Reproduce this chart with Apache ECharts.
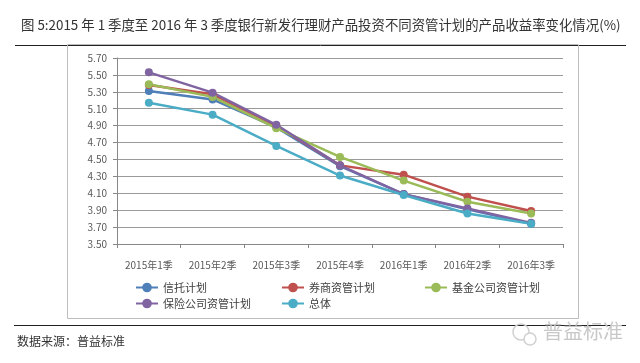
<!DOCTYPE html>
<html><head><meta charset="utf-8">
<script src="https://cdn.jsdelivr.net/npm/echarts@6/dist/echarts.min.js"></script>
<style>html,body{margin:0;padding:0;background:#fff}#c{width:640px;height:363px}</style>
</head><body><div id="c"></div>
<script>
var categories = ['2015年1季','2015年2季','2015年3季','2015年4季','2016年1季','2016年2季','2016年3季'];
var seriesNames = ['信托计划','券商资管计划','基金公司资管计划','保险公司资管计划','总体'];
var trust    = [5.31, 5.21, 4.88, 4.42, 4.09, 3.91, 3.74];
var broker   = [5.38, 5.27, 4.90, 4.43, 4.32, 4.06, 3.89];
var fund     = [5.39, 5.24, 4.87, 4.53, 4.25, 4.00, 3.86];
var insure   = [5.53, 5.29, 4.91, 4.43, 4.09, 3.92, 3.75];
var overall  = [5.17, 5.03, 4.66, 4.31, 4.08, 3.86, 3.74];
var yTicks = {min: 3.5, max: 5.7, step: 0.2};
var titleText = '图 5:2015 年 1 季度至 2016 年 3 季度银行新发行理财产品投资不同资管计划的产品收益率变化情况(%)';
var sourceText = '数据来源：普益标准';

var colors = ['#4f7fb8','#bf504d','#9bbb59','#8064a2','#4bacc6'];
var allData = [trust, broker, fund, insure, overall];
var font = '"Noto Sans CJK SC", sans-serif';

var chart = echarts.init(document.getElementById('c'), null, {renderer:'canvas'});
var legendPos = [[130,277],[276,277],[419,277],[130,293],[276,293]];
var legends = seriesNames.map(function(n,i){
  return {data:[n], left:legendPos[i][0], top:legendPos[i][1], itemWidth:22, itemHeight:12,
    itemGap:4, textStyle:{fontFamily:font, fontSize:11, color:'#404040'}, selectedMode:false};
});
var option = {
  animation:false,
  color: colors,
  textStyle:{fontFamily:font},
  title:{text:titleText, left:16, top:13, textStyle:{fontFamily:font, fontSize:13.4, fontWeight:'normal', color:'#333'}},
  legend: legends,
  grid:{left:117, right:77, top:58, bottom:119, containLabel:false},
  xAxis:{type:'category', data:categories, boundaryGap:true,
    axisLine:{lineStyle:{color:'#888', width:1}},
    axisTick:{show:true, length:4, lineStyle:{color:'#888'}},
    axisLabel:{fontFamily:font, fontSize:10, color:'#595959', margin:16},
    splitLine:{show:false}},
  yAxis:{type:'value', min:yTicks.min, max:yTicks.max, interval:yTicks.step,
    axisLine:{show:true, lineStyle:{color:'#888', width:1}},
    axisTick:{show:true, length:4, lineStyle:{color:'#888'}},
    axisLabel:{fontFamily:font, fontSize:10, color:'#595959', margin:10, formatter:function(v){return v.toFixed(2);}},
    splitLine:{show:true, lineStyle:{color:'#9a9a9a', width:1}}},
  series: seriesNames.map(function(n,i){
    return {name:n, type:'line', data:allData[i], symbol:'circle', symbolSize:8,
      lineStyle:{width:2.5, color:colors[i]}, itemStyle:{color:colors[i]}};
  }),
  graphic:[
    {type:'line', shape:{x1:15,y1:45.5,x2:626,y2:45.5}, style:{stroke:'#222', lineWidth:1}},
    {type:'rect', shape:{x:67.5,y:44.5,width:511,height:274}, style:{fill:'none', stroke:'#bdbdbd', lineWidth:1}, z:1},
    {type:'line', shape:{x1:14,y1:325.5,x2:626,y2:325.5}, style:{stroke:'#222', lineWidth:1}},
    {type:'text', left:17, top:335, style:{text:sourceText, font:'12px '+font, fill:'#333'}},
    {type:'text', left:543, top:321, style:{text:'普益标准', font:'20px '+font, fill:'#c8c8c8'}},
    {type:'circle', shape:{cx:521,cy:332,r:8}, style:{fill:'none', stroke:'#d0d0d0', lineWidth:1.5}},
    {type:'circle', shape:{cx:530,cy:339,r:6}, style:{fill:'#fff', stroke:'#d0d0d0', lineWidth:1.5}}
  ]
};
chart.setOption(option);
</script></body></html>
